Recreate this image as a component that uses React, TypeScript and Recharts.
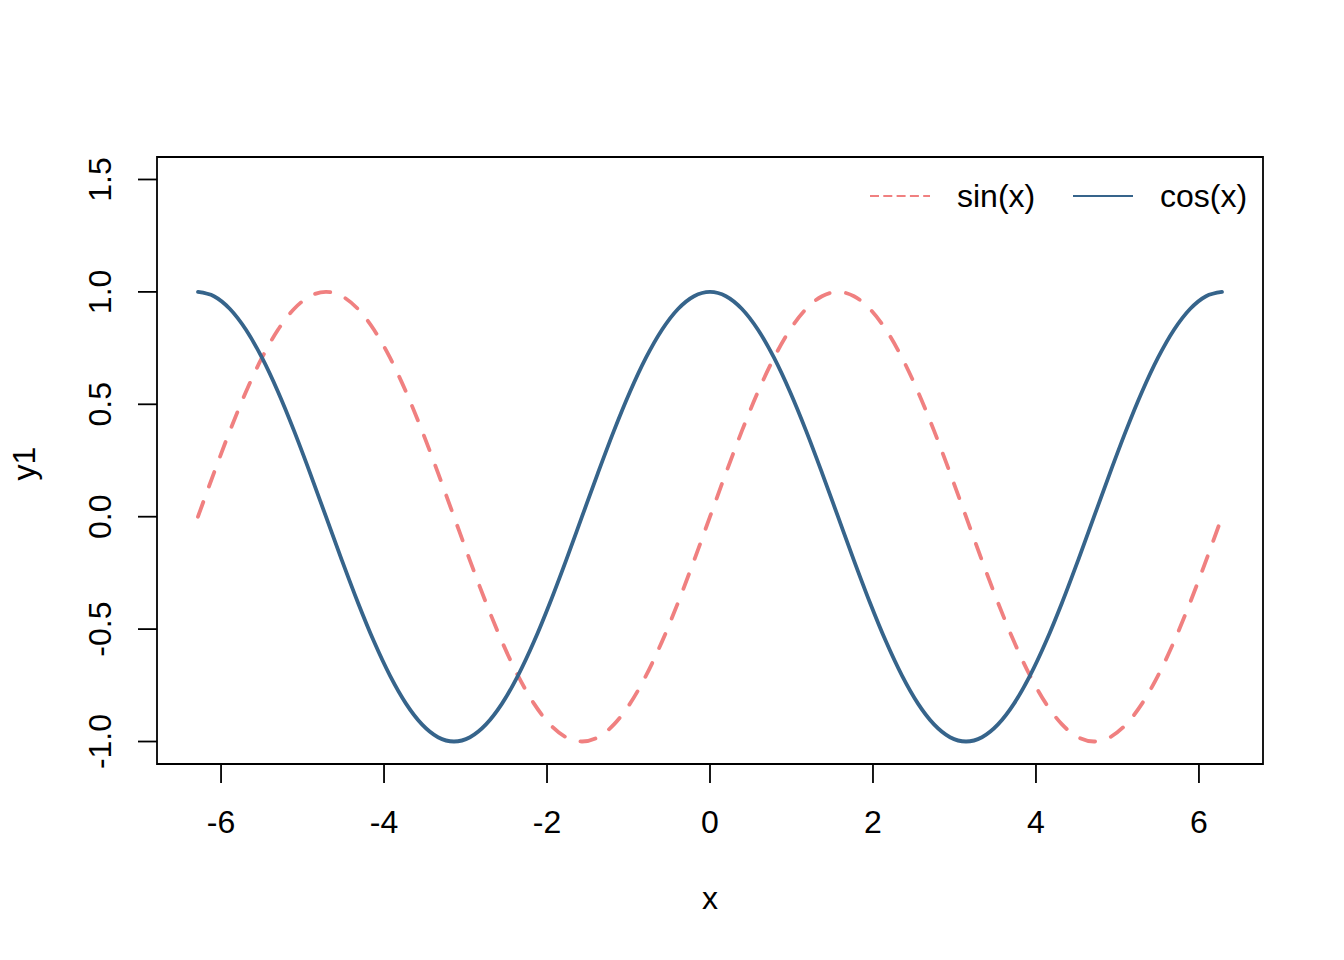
import React from 'react';
import { LineChart, Line, XAxis, YAxis, ReferenceArea, Legend } from 'recharts';

const xValues = [
  -6.2832, -6.0868, -5.8905, -5.6941, -5.4978, -5.3014, -5.1051, -4.9087, -4.7124,
  -4.516, -4.3197, -4.1233, -3.927, -3.7306, -3.5343, -3.3379, -3.1416,
  -2.9452, -2.7489, -2.5525, -2.3562, -2.1598, -1.9635, -1.7671, -1.5708,
  -1.3744, -1.1781, -0.9817, -0.7854, -0.589, -0.3927, -0.1963, 0,
  0.1963, 0.3927, 0.589, 0.7854, 0.9817, 1.1781, 1.3744, 1.5708,
  1.7671, 1.9635, 2.1598, 2.3562, 2.5525, 2.7489, 2.9452, 3.1416,
  3.3379, 3.5343, 3.7306, 3.927, 4.1233, 4.3197, 4.516, 4.7124,
  4.9087, 5.1051, 5.3014, 5.4978, 5.6941, 5.8905, 6.0868, 6.2832,
];

const sinValues = [
  0, 0.1951, 0.3827, 0.5556, 0.7071, 0.8315, 0.9239, 0.9808, 1,
  0.9808, 0.9239, 0.8315, 0.7071, 0.5556, 0.3827, 0.1951, 0,
  -0.1951, -0.3827, -0.5556, -0.7071, -0.8315, -0.9239, -0.9808, -1,
  -0.9808, -0.9239, -0.8315, -0.7071, -0.5556, -0.3827, -0.1951, 0,
  0.1951, 0.3827, 0.5556, 0.7071, 0.8315, 0.9239, 0.9808, 1,
  0.9808, 0.9239, 0.8315, 0.7071, 0.5556, 0.3827, 0.1951, 0,
  -0.1951, -0.3827, -0.5556, -0.7071, -0.8315, -0.9239, -0.9808, -1,
  -0.9808, -0.9239, -0.8315, -0.7071, -0.5556, -0.3827, -0.1951, 0,
];

const cosValues = [
  1, 0.9808, 0.9239, 0.8315, 0.7071, 0.5556, 0.3827, 0.1951, 0,
  -0.1951, -0.3827, -0.5556, -0.7071, -0.8315, -0.9239, -0.9808, -1,
  -0.9808, -0.9239, -0.8315, -0.7071, -0.5556, -0.3827, -0.1951, 0,
  0.1951, 0.3827, 0.5556, 0.7071, 0.8315, 0.9239, 0.9808, 1,
  0.9808, 0.9239, 0.8315, 0.7071, 0.5556, 0.3827, 0.1951, 0,
  -0.1951, -0.3827, -0.5556, -0.7071, -0.8315, -0.9239, -0.9808, -1,
  -0.9808, -0.9239, -0.8315, -0.7071, -0.5556, -0.3827, -0.1951, 0,
  0.1951, 0.3827, 0.5556, 0.7071, 0.8315, 0.9239, 0.9808, 1,
];

const xTicks = [-6, -4, -2, 0, 2, 4, 6];
const yTicks = [-1, -0.5, 0, 0.5, 1, 1.5];
const yTickLabels = ['-1.0', '-0.5', '0.0', '0.5', '1.0', '1.5'];
const seriesNames = ['sin(x)', 'cos(x)'];

const data = xValues.map((x, i) => ({ x, sin: sinValues[i], cos: cosValues[i] }));

const FONT = '"Liberation Sans", Arial, Helvetica, sans-serif';
const FS = 32;
const SIN_COLOR = '#F08080';
const COS_COLOR = '#36648B';
const X_DOMAIN: [number, number] = [-6.786, 6.786];
const Y_DOMAIN: [number, number] = [-1.1, 1.6];

const XTick = (props: any) => {
  const { x, y, payload } = props;
  return (
    <text x={x} y={y + 50} textAnchor="middle" fontSize={FS} fontFamily={FONT} fill="#000">
      {payload.value}
    </text>
  );
};

const YTick = (props: any) => {
  const { x, y, payload } = props;
  const idx = yTicks.indexOf(payload.value);
  const label = idx >= 0 ? yTickLabels[idx] : String(payload.value);
  const tx = x - 27;
  return (
    <text
      x={tx}
      y={y}
      textAnchor="middle"
      fontSize={FS}
      fontFamily={FONT}
      fill="#000"
      transform={`rotate(-90, ${tx}, ${y})`}
    >
      {label}
    </text>
  );
};

const LegendContent = () => (
  <svg width={420} height={60} style={{ overflow: 'visible' }}>
    <line x1={20} y1={26} x2={80} y2={26} stroke={SIN_COLOR} strokeWidth={1.9} strokeDasharray="9 4.3" />
    <text x={107} y={37} fontSize={FS} fontFamily={FONT} fill="#000">{seriesNames[0]}</text>
    <line x1={223} y1={26} x2={283} y2={26} stroke={COS_COLOR} strokeWidth={1.9} />
    <text x={310} y={37} fontSize={FS} fontFamily={FONT} fill="#000">{seriesNames[1]}</text>
  </svg>
);

export default function App() {
  return (
    <div style={{ position: 'absolute', left: 0, top: 0, width: 1344, height: 960, background: '#fff' }}>
      <LineChart
        width={1344}
        height={960}
        data={data}
        margin={{ top: 157, right: 81, bottom: 136, left: 97 }}
      >
        <XAxis
          dataKey="x"
          type="number"
          domain={X_DOMAIN}
          allowDataOverflow
          ticks={xTicks}
          interval={0}
          height={60}
          axisLine={false}
          tickLine={{ stroke: '#000', strokeWidth: 1.8 }}
          tickSize={19}
          tickMargin={0}
          tick={<XTick />}
          label={{
            content: (p: any) => {
              const vb = p.viewBox || {};
              return (
                <text x={vb.x + vb.width / 2} y={vb.y + 145} textAnchor="middle" fontSize={FS} fontFamily={FONT} fill="#000">
                  x
                </text>
              );
            },
          }}
        />
        <YAxis
          type="number"
          domain={Y_DOMAIN}
          allowDataOverflow
          ticks={yTicks}
          interval={0}
          width={60}
          axisLine={false}
          tickLine={{ stroke: '#000', strokeWidth: 1.8 }}
          tickSize={19}
          tickMargin={0}
          tick={<YTick />}
          label={{
            content: (p: any) => {
              const vb = p.viewBox || {};
              const lx = vb.x - 62;
              const ly = vb.y + vb.height / 2 + 3;
              return (
                <text x={lx} y={ly} textAnchor="middle" fontSize={FS} fontFamily={FONT} fill="#000" transform={`rotate(-90, ${lx}, ${ly})`}>
                  y1
                </text>
              );
            },
          }}
        />
        <ReferenceArea
          x1={X_DOMAIN[0]}
          x2={X_DOMAIN[1]}
          y1={Y_DOMAIN[0]}
          y2={Y_DOMAIN[1]}
          fill="none"
          fillOpacity={0}
          stroke="#000"
          strokeWidth={1.8}
          ifOverflow="visible"
        />
        <Line
          type="monotone"
          dataKey="sin"
          name={seriesNames[0]}
          stroke={SIN_COLOR}
          strokeWidth={3.8}
          strokeDasharray="15.5 16.5"
          strokeLinecap="round"
          dot={false}
          activeDot={false}
          isAnimationActive={false}
        />
        <Line
          type="monotone"
          dataKey="cos"
          name={seriesNames[1]}
          stroke={COS_COLOR}
          strokeWidth={3.8}
          strokeLinecap="round"
          dot={false}
          activeDot={false}
          isAnimationActive={false}
        />
        <Legend
          layout="horizontal"
          verticalAlign="middle"
          align="center"
          content={<LegendContent />}
          wrapperStyle={{ position: 'absolute', left: 850, top: 170, width: 420, height: 60 }}
        />
      </LineChart>
    </div>
  );
}
